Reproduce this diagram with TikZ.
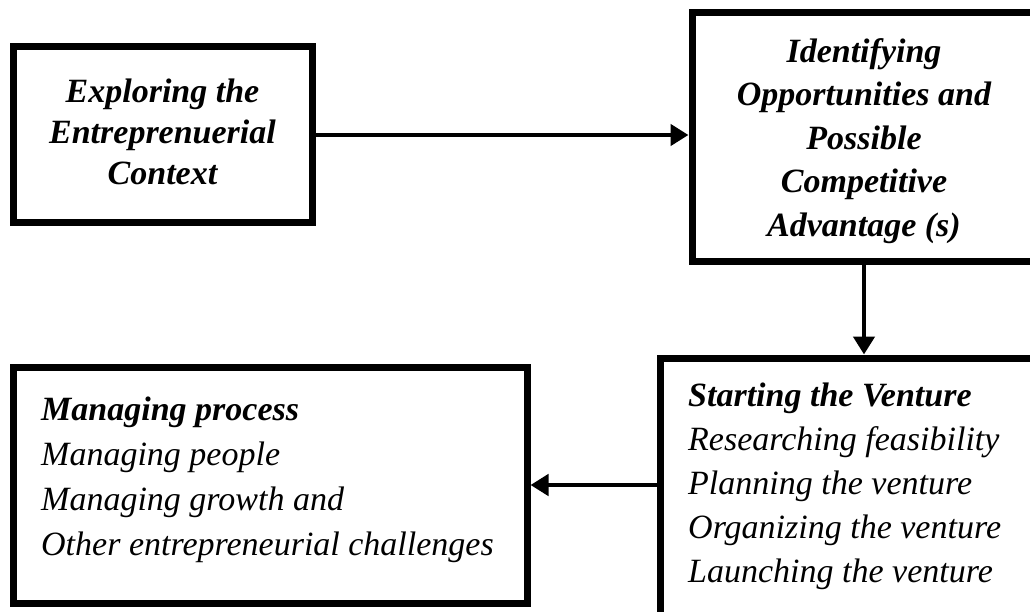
\documentclass[tikz,border=0pt]{standalone}
\usepackage{fontspec}
\setmainfont{Liberation Serif}
\usetikzlibrary{arrows.meta}
\begin{document}
\begin{tikzpicture}[x=1pt,y=-1pt,
  box/.style={draw=black, line width=7pt, inner sep=0pt},
  conn/.style={line width=4.5pt, -{Triangle[length=18pt,width=21pt]}},
  hd/.style={font=\fontsize{34}{41}\selectfont\bfseries\itshape, align=center},
  lst/.style={font=\fontsize{34}{44}\selectfont\itshape, align=left, inner sep=0pt, anchor=north west}]
\useasboundingbox (0,0) rectangle (1030,612);
\fill[white] (0,0) rectangle (1030,612);
\clip (0,0) rectangle (1030,612);
\node[box, minimum width=299pt, minimum height=176pt] (b1) at (162.5,135) {};
\node[hd] (t1) at (162.5,132) {Exploring the\\Entreprenuerial\\Context};
\node[box, minimum width=344pt, minimum height=249pt] (b2) at (864,137.5) {};
\node[hd, font=\fontsize{34}{43.5}\selectfont\bfseries\itshape] (t2) at (864,141)
  {Identifying\\Opportunities and\\Possible\\Competitive\\Advantage (s)};
\node[box, minimum width=404pt, minimum height=292pt] (b3) at (862,504) {};
\node[box, minimum width=514pt, minimum height=236pt] (b4) at (270,485) {};
\node[lst] (t3) at (688,383) {\textbf{Starting the Venture}\\Researching feasibility\\Planning the venture\\Organizing the venture\\Launching the venture};
\node[lst, font=\fontsize{34}{45}\selectfont\itshape] (t4) at (41,397) {\textbf{Managing process}\\Managing people\\Managing growth and\\Other entrepreneurial challenges};
\draw[conn] (b1.east) -- (b1.east -| b2.west);
\draw[conn] (b2.south) -- (b2.south |- b3.north);
\draw[conn] (b3.west |- b4.east) -- (b4.east);
\end{tikzpicture}
\end{document}
